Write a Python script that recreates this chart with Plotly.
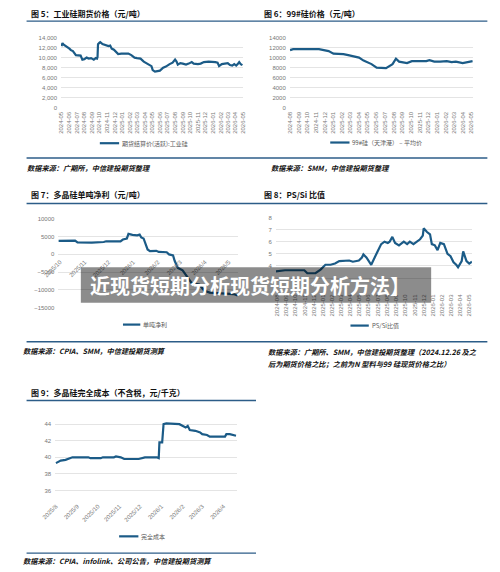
import plotly.graph_objects as go

# ---------------- data ----------------
fut_dates = ["2024-05-01","2024-05-05","2024-05-10","2024-05-16","2024-05-26","2024-06-02","2024-06-08","2024-06-16",
             "2024-06-28","2024-07-07","2024-07-17","2024-07-24","2024-08-01","2024-08-10","2024-08-19","2024-08-28",
             "2024-09-08","2024-09-16","2024-09-21","2024-09-23","2024-09-25","2024-10-01","2024-10-04","2024-10-13",
             "2024-10-24","2024-11-06","2024-11-13","2024-11-19","2024-11-28","2024-12-08","2024-12-15","2024-12-28",
             "2025-01-17","2025-01-25","2025-02-06","2025-02-19","2025-03-01","2025-03-15","2025-03-28","2025-04-10",
             "2025-04-23","2025-04-28","2025-05-03","2025-05-12","2025-05-22","2025-06-01","2025-06-14","2025-06-25",
             "2025-07-10","2025-07-22","2025-08-01","2025-08-07","2025-08-12","2025-08-22","2025-09-01","2025-09-14",
             "2025-09-25","2025-10-07","2025-10-15","2025-10-23","2025-11-01","2025-11-12","2025-11-25","2025-12-14",
             "2025-12-29","2026-01-10","2026-01-19","2026-01-25","2026-02-05","2026-02-16","2026-03-01","2026-03-10",
             "2026-03-19","2026-03-27","2026-04-04","2026-04-10","2026-04-16","2026-04-22","2026-04-29"]
fut_prices = [12300,12900,12600,12400,12200,11800,11500,11300,
              10500,10400,10400,9600,9700,10000,9800,9900,
              9600,9900,9800,10100,12700,13000,13100,12700,
              12500,12300,12400,11800,11600,11000,10700,10800,
              10900,10800,10500,10000,9900,9800,9200,8800,
              8400,8300,7500,7200,7300,7400,8000,8200,
              8700,9000,9600,9200,8600,8900,8800,8600,
              8800,9100,8800,8700,8700,8800,9100,9200,
              9200,9100,9000,8300,8700,8800,8900,8500,
              8400,8700,8400,8700,9100,8700,8500]

si99_dates = ["2024-08-01","2024-08-12","2024-11-11","2024-12-04","2024-12-15","2025-01-01","2025-02-05","2025-02-22",
              "2025-03-14","2025-04-01","2025-04-17","2025-05-04","2025-05-15","2025-06-02","2025-06-19","2025-07-05",
              "2025-07-28","2025-08-09","2025-08-20","2025-09-17","2025-10-04","2025-11-24","2025-12-05","2025-12-22",
              "2026-01-12","2026-02-04","2026-02-21","2026-03-08","2026-04-01","2026-05-06"]
si99_prices = [11500,11700,11700,11400,11300,10800,10700,10500,
               10300,10000,9400,8900,8700,8000,7900,7900,
               8700,9800,9200,8900,9300,9300,9500,9200,
               9200,9300,9100,9200,8900,9300]

profit_dates = ["2025-09-29","2025-10-11","2025-10-14","2025-10-20","2025-10-23","2025-11-10","2025-11-25","2025-11-28",
                "2025-12-16","2025-12-19","2025-12-24","2025-12-26","2025-12-31","2026-01-06","2026-01-09","2026-01-11",
                "2026-01-14","2026-01-16","2026-01-19","2026-01-22","2026-01-30","2026-02-02","2026-02-12","2026-02-15",
                "2026-02-20","2026-02-22","2026-02-26","2026-03-04","2026-03-09","2026-03-15","2026-03-25","2026-03-31",
                "2026-04-07","2026-04-25","2026-05-07","2026-05-12"]
profit_vals = [3800,3800,4000,3900,3400,3300,3500,3700,
               3700,4200,4500,5800,5500,5400,5600,4800,
               4500,3000,1400,900,1000,700,600,0,
               -300,-1800,-3800,-4500,-6000,-8000,-8500,-10200,
               -10800,-11000,-11200,-11600]

ratio_dates = ["2024-07-29","2024-08-10","2024-08-28","2024-10-31","2024-11-10","2024-12-07","2024-12-24","2025-01-09",
               "2025-01-26","2025-02-10","2025-02-24","2025-03-29","2025-04-10","2025-04-30","2025-05-10","2025-05-15",
               "2025-05-25","2025-06-10","2025-06-22","2025-07-01","2025-07-13","2025-07-24","2025-08-04","2025-08-10",
               "2025-08-19","2025-08-28","2025-09-10","2025-09-26","2025-10-07","2025-10-16","2025-10-28","2025-11-08",
               "2025-11-19","2025-11-28","2025-12-01","2025-12-12","2025-12-22","2025-12-28","2026-01-07","2026-01-16",
               "2026-01-25","2026-02-06","2026-02-18","2026-02-28","2026-03-10","2026-03-19","2026-03-25","2026-04-06",
               "2026-04-11","2026-04-22","2026-05-01","2026-05-10"]
ratio_vals = [3.55,3.6,3.65,3.65,3.4,3.4,3.7,4.1,
              4.1,4.2,4.4,4.45,4.35,4.45,4.7,4.95,
              4.7,4.1,4.8,5.2,5.8,6.0,5.9,6.0,
              6.4,5.9,5.7,6.0,5.8,6.0,5.8,6.0,
              6.2,6.5,7.1,6.8,6.6,5.8,5.7,5.3,
              5.9,5.8,5.0,4.8,4.3,4.1,3.9,4.4,
              5.2,4.4,4.2,4.35]
# y ticks of the ratio chart; the lowest two labels sit under the banner text in the picture
ratio_ticks = [2, 3, 4, 5, 6, 7, 8]
ratio_ticklabels = ["", "", "4", "5", "6", "7", "8"]

cost_dates = ["2025-08-01","2025-08-08","2025-08-15","2025-08-20","2025-08-25","2025-09-17","2025-09-20","2025-10-05",
              "2025-10-08","2025-10-24","2025-10-27","2025-11-03","2025-11-08","2025-11-29","2025-12-03","2025-12-08",
              "2025-12-25","2025-12-28","2025-12-29","2026-01-02","2026-01-04","2026-01-08","2026-01-27","2026-02-01",
              "2026-02-05","2026-02-08","2026-02-11","2026-02-19","2026-02-26","2026-03-01","2026-03-08","2026-03-12",
              "2026-04-03","2026-04-05","2026-04-10","2026-04-19"]
cost_vals = [39.3,39.6,39.7,39.9,40.0,40.0,39.9,39.9,
             40.0,40.0,40.1,40.0,39.8,39.8,39.9,40.0,
             40.0,39.9,41.8,41.8,44.0,44.1,44.0,43.8,
             43.6,43.8,43.3,43.2,43.0,42.8,42.7,42.5,
             42.5,42.8,42.8,42.6]

titles = ["图 5：工业硅期货价格（元/吨）", "图 6：99#硅价格（元/吨）", "图 7：多晶硅单吨净利（元/吨）",
          "图 8：PS/Si 比值", "图 9：多晶硅完全成本（不含税，元/千克）"]
legend_names = ["期货结算价(活跃):工业硅", "99#硅（天津港） – 平均价", "单吨净利", "PS/Si比值", "完全成本"]
sources = ["数据来源：广期所，中信建投期货整理", "数据来源：SMM，中信建投期货整理",
           "数据来源：CPIA、SMM，中信建投期货测算",
           "数据来源：广期所、SMM，中信建投期货整理（2024.12.26 及之",
           "后为期货价格之比；之前为N 型料与99 硅现货价格之比）",
           "数据来源：CPIA、infolink、公司公告，中信建投期货测算"]
banner_text = "近现货短期分析现货短期分析方法】"

# ---------------- styling ----------------
W, H = 500, 572
def px(x): return x / W
def py(y): return 1 - y / H

LINE = "#1b5b87"
RULE = "#2c5d88"
GRID = "#e4e4e4"
TICK = "#777777"
CJK = "Noto Sans CJK SC"
NUMF = "Liberation Sans"

fig = go.Figure()
series = [(fut_dates, fut_prices, "x", "y"), (si99_dates, si99_prices, "x2", "y2"),
          (profit_dates, profit_vals, "x3", "y3"), (ratio_dates, ratio_vals, "x4", "y4"),
          (cost_dates, cost_vals, "x5", "y5")]
for (d, v, xa, ya), nm in zip(series, legend_names):
    fig.add_trace(go.Scatter(x=d, y=v, xaxis=xa, yaxis=ya, mode="lines", name=nm,
                             line=dict(color=LINE, width=2.2), showlegend=False, hoverinfo="skip"))

tickfont = dict(size=6, color=TICK, family=NUMF)

def xax(d0, d1, anchor, rng, fmt, angle, tick0, **kw):
    a = dict(domain=[px(d0), px(d1)], anchor=anchor, type="date", range=rng, tickformat=fmt,
             tickangle=angle, dtick="M1", tick0=tick0, showgrid=False, showline=False, zeroline=False,
             ticks="", tickfont=tickfont, fixedrange=True, ticklabelstandoff=2)
    a.update(kw)
    return a

def yax(top, bot, anchor, rng, dtick, fmt, **kw):
    a = dict(domain=[py(bot), py(top)], anchor=anchor, range=rng, dtick=dtick, tickformat=fmt,
             showgrid=True, gridcolor=GRID, gridwidth=0.8, showline=False, zeroline=False,
             ticks="", tickfont=tickfont, fixedrange=True, ticklabelstandoff=3)
    a.update(kw)
    return a

zero3 = 218.3 + 10000 / 25000 * (307.7 - 218.3)

fig.update_layout(
    width=W, height=H, margin=dict(l=0, r=0, t=0, b=0),
    paper_bgcolor="white", plot_bgcolor="white", showlegend=False,
    xaxis=xax(47.7, 236.7, "y", ["2024-04-29", "2026-05-02"], "%Y-%m", -90, "2024-05-01"),
    yaxis=yax(35, 105.7, "x", [0, 14000], 2000, ","),
    xaxis2=xax(285, 475, "y2", ["2024-07-31", "2026-05-07"], "%Y-%m", -90, "2024-08-01"),
    yaxis2=yax(35, 105.7, "x2", [0, 14000], 2000, "d"),
    xaxis3=xax(45, 231.7, "free", ["2025-09-29", "2026-05-13"], "%Y/%-m", -45, "2025-10-01",
               position=py(zero3)),
    yaxis3=yax(218.3, 307.7, "x3", [-15000, 10000], 5000, "d"),
    xaxis4=xax(270.7, 474, "y4", ["2024-07-29", "2026-05-10"], "%Y-%m", -90, "2024-08-01"),
    yaxis4=yax(216.7, 290.3, "x4", [2, 8], 1, "d", tickmode="array",
               tickvals=ratio_ticks, ticktext=ratio_ticklabels),
    xaxis5=xax(41.7, 230, "y5", ["2025-07-31", "2026-04-20"], "%Y/%-m", -45, "2025-08-01"),
    yaxis5=yax(417.3, 501, "x5", [35, 45], 2, "d"),
)

shapes = []
ann = []
# rules
for (x0, x1, y) in [(12, 490, 18.3), (12, 490, 156.7), (12, 490, 202.7), (12, 490, 342.3),
                    (12, 250, 401.7), (12, 250, 556)]:
    shapes.append(dict(type="line", xref="paper", yref="paper", x0=px(x0), x1=px(x1), y0=py(y), y1=py(y),
                       line=dict(color=RULE, width=1.4)))
# titles
for t, (x, y) in zip(titles, [(15, 11), (256, 11), (15, 194), (256, 194), (15, 393.3)]):
    ann.append(dict(text="<b>" + t + "</b>", x=px(x), y=py(y), xref="paper", yref="paper",
                    xanchor="left", yanchor="middle", showarrow=False,
                    font=dict(size=8, color="#111111", family=CJK)))
# legends
for nm, (x0, x1, y) in zip(legend_names, [(88, 108, 141.7), (327, 347, 141), (112, 130, 325),
                                          (348, 367, 326), (108, 128, 539)]):
    shapes.append(dict(type="line", xref="paper", yref="paper", x0=px(x0), x1=px(x1), y0=py(y), y1=py(y),
                       line=dict(color=LINE, width=2.2)))
    ann.append(dict(text=nm, x=px(x1 + 1), y=py(y), xref="paper", yref="paper", xanchor="left",
                    yanchor="middle", showarrow=False, font=dict(size=6, color="#595959", family=CJK)))
# sources
for s, (x, y) in zip(sources, [(10, 166.7), (263, 166.7), (6, 351.7), (260, 352.3), (260, 365), (6, 564)]):
    ann.append(dict(text="<b><i>" + s + "</i></b>", x=px(x), y=py(y), xref="paper", yref="paper",
                    xanchor="left", yanchor="middle", showarrow=False,
                    font=dict(size=7.2, color="#111111", family=CJK)))
# banner overlay
shapes.append(dict(type="rect", xref="paper", yref="paper", x0=px(68.3), x1=px(431.7), y0=py(303), y1=py(267),
                   fillcolor="rgba(0,0,0,0.45)", line=dict(width=0), layer="above"))
ann.append(dict(text="<b>" + banner_text + "</b>", x=px(76), y=py(285), xref="paper", yref="paper",
                xanchor="left", yanchor="middle", showarrow=False,
                font=dict(size=20, color="white", family=CJK)))

fig.update_layout(shapes=shapes, annotations=ann)
fig.write_html("out.html")
